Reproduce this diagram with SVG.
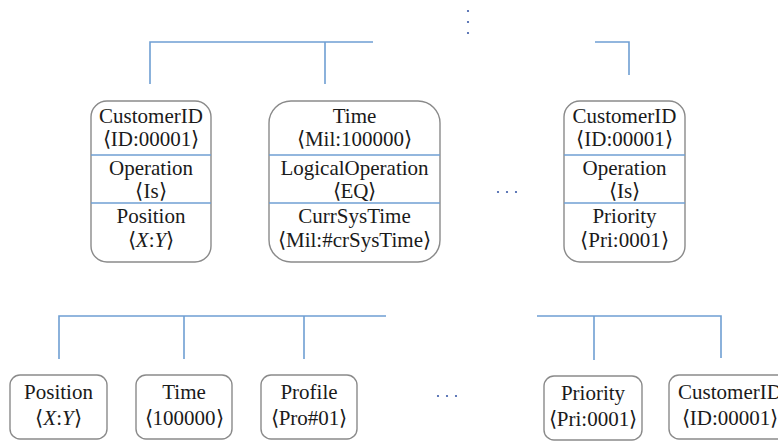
<svg xmlns="http://www.w3.org/2000/svg" width="778" height="441" viewBox="0 0 778 441">
<style>
.c{stroke:#6f9fd3;stroke-width:1.6;fill:none}
.b{fill:#fff;stroke:#8a8a8a;stroke-width:1.4}
.d{stroke:#6f9fd3;stroke-width:1.6}
.dot{fill:#3a5aa8}
</style>
<rect width="778" height="441" fill="#fff"/>
<g id="connectors">
<path class="c" d="M150,84V42H373M325,42V84"/>
<path class="c" d="M595,42H629V75"/>
<path class="c" d="M59,359V316H386M184,316V359M304,316V359"/>
<path class="c" d="M537,316H721V358M594,316V360"/>
</g>
<g id="vdots" class="dot"><circle cx="468" cy="11" r="1.1"/><circle cx="468" cy="22" r="1.1"/><circle cx="468" cy="33" r="1.1"/></g>
<g id="hdots1" class="dot"><circle cx="498" cy="192" r="1.1"/><circle cx="507" cy="192" r="1.1"/><circle cx="516" cy="192" r="1.1"/></g>
<g id="hdots2" class="dot"><circle cx="438" cy="396" r="1.1"/><circle cx="447" cy="396" r="1.1"/><circle cx="456" cy="396" r="1.1"/></g>
<g id="node1">
<rect class="b" x="91" y="101" width="120" height="161" rx="16"/>
<line class="d" x1="91" y1="155" x2="211" y2="155"/><line class="d" x1="91" y1="203" x2="211" y2="203"/>
<text x="151" y="123" font-family="Liberation Serif" font-size="21" fill="#1a1a1a" text-anchor="middle">CustomerID</text>
<text x="151" y="146" font-family="Liberation Serif" font-size="21" fill="#1a1a1a" text-anchor="middle">⟨ID:00001⟩</text>
<text x="151" y="175" font-family="Liberation Serif" font-size="21" fill="#1a1a1a" text-anchor="middle">Operation</text>
<text x="151" y="198" font-family="Liberation Serif" font-size="21" fill="#1a1a1a" text-anchor="middle">⟨Is⟩</text>
<text x="151" y="223" font-family="Liberation Serif" font-size="21" fill="#1a1a1a" text-anchor="middle">Position</text>
<text x="151" y="247" font-family="Liberation Serif" font-size="21" fill="#1a1a1a" text-anchor="middle">⟨<tspan font-style="italic">X</tspan>:<tspan font-style="italic">Y</tspan>⟩</text>
</g>
<g id="node2">
<rect class="b" x="269" y="101" width="171" height="161" rx="22"/>
<line class="d" x1="269" y1="155" x2="440" y2="155"/><line class="d" x1="269" y1="203" x2="440" y2="203"/>
<text x="354.5" y="123" font-family="Liberation Serif" font-size="21" fill="#1a1a1a" text-anchor="middle">Time</text>
<text x="354.5" y="146" font-family="Liberation Serif" font-size="21" fill="#1a1a1a" text-anchor="middle">⟨Mil:100000⟩</text>
<text x="354.5" y="175" font-family="Liberation Serif" font-size="21" fill="#1a1a1a" text-anchor="middle">LogicalOperation</text>
<text x="354.5" y="198" font-family="Liberation Serif" font-size="21" fill="#1a1a1a" text-anchor="middle">⟨EQ⟩</text>
<text x="354.5" y="223" font-family="Liberation Serif" font-size="21" fill="#1a1a1a" text-anchor="middle">CurrSysTime</text>
<text x="354.5" y="247" font-family="Liberation Serif" font-size="21" fill="#1a1a1a" text-anchor="middle">⟨Mil:#crSysTime⟩</text>
</g>
<g id="node3">
<rect class="b" x="564" y="101" width="121" height="161" rx="16"/>
<line class="d" x1="564" y1="155" x2="685" y2="155"/><line class="d" x1="564" y1="203" x2="685" y2="203"/>
<text x="624.5" y="123" font-family="Liberation Serif" font-size="21" fill="#1a1a1a" text-anchor="middle">CustomerID</text>
<text x="624.5" y="146" font-family="Liberation Serif" font-size="21" fill="#1a1a1a" text-anchor="middle">⟨ID:00001⟩</text>
<text x="624.5" y="175" font-family="Liberation Serif" font-size="21" fill="#1a1a1a" text-anchor="middle">Operation</text>
<text x="624.5" y="198" font-family="Liberation Serif" font-size="21" fill="#1a1a1a" text-anchor="middle">⟨Is⟩</text>
<text x="624.5" y="223" font-family="Liberation Serif" font-size="21" fill="#1a1a1a" text-anchor="middle">Priority</text>
<text x="624.5" y="247" font-family="Liberation Serif" font-size="21" fill="#1a1a1a" text-anchor="middle">⟨Pri:0001⟩</text>
</g>
<g id="leaf1"><rect class="b" x="10" y="375" width="97" height="64" rx="10"/>
<text x="58.5" y="399" font-family="Liberation Serif" font-size="21" fill="#1a1a1a" text-anchor="middle">Position</text>
<text x="58.5" y="425" font-family="Liberation Serif" font-size="21" fill="#1a1a1a" text-anchor="middle">⟨<tspan font-style="italic">X</tspan>:<tspan font-style="italic">Y</tspan>⟩</text></g>
<g id="leaf2"><rect class="b" x="136" y="375" width="96" height="64" rx="10"/>
<text x="184" y="399" font-family="Liberation Serif" font-size="21" fill="#1a1a1a" text-anchor="middle">Time</text>
<text x="184" y="425" font-family="Liberation Serif" font-size="21" fill="#1a1a1a" text-anchor="middle">⟨100000⟩</text></g>
<g id="leaf3"><rect class="b" x="261" y="375" width="96" height="64" rx="10"/>
<text x="309" y="399" font-family="Liberation Serif" font-size="21" fill="#1a1a1a" text-anchor="middle">Profile</text>
<text x="309" y="425" font-family="Liberation Serif" font-size="21" fill="#1a1a1a" text-anchor="middle">⟨Pro#01⟩</text></g>
<g id="leaf4"><rect class="b" x="544" y="376" width="98" height="64" rx="10"/>
<text x="593" y="400" font-family="Liberation Serif" font-size="21" fill="#1a1a1a" text-anchor="middle">Priority</text>
<text x="593" y="426" font-family="Liberation Serif" font-size="21" fill="#1a1a1a" text-anchor="middle">⟨Pri:0001⟩</text></g>
<g id="leaf5"><rect class="b" x="669" y="375" width="122" height="64" rx="10"/>
<text x="730" y="399" font-family="Liberation Serif" font-size="21" fill="#1a1a1a" text-anchor="middle">CustomerID</text>
<text x="730" y="425" font-family="Liberation Serif" font-size="21" fill="#1a1a1a" text-anchor="middle">⟨ID:00001⟩</text></g>
</svg>
